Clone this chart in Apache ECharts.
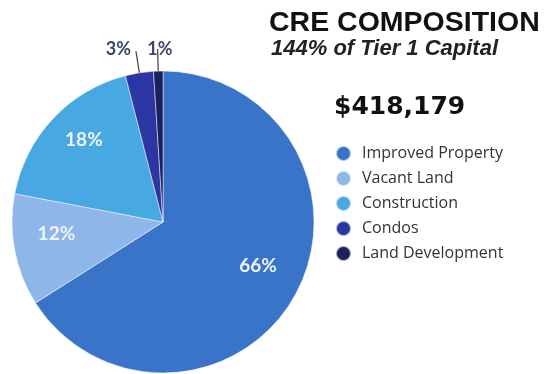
<!DOCTYPE html>
<html>
<head>
<meta charset="utf-8">
<script src="https://cdn.jsdelivr.net/npm/echarts@6/dist/echarts.min.js"></script>
<style>
  html, body { margin: 0; padding: 0; background: #fff; }
  #chart { width: 547px; height: 374px; }
</style>
</head>
<body>
<div id="chart"></div>
<script>
// CRE loan composition by segment (percent of total)
const categories = ['Improved Property', 'Vacant Land', 'Construction', 'Condos', 'Land Development'];
const shares = [66, 12, 18, 3, 1];
const colors = ['#3a74c9', '#8fb6e8', '#48a8e2', '#2b35a3', '#1c205e'];
const titleText = 'CRE COMPOSITION';
const subtitleText = '144% of Tier 1 Capital';
const totalText = '$418,179';

const pieData = categories.map((name, i) => ({
  name,
  value: shares[i],
  itemStyle: { color: colors[i] },
  label: { show: shares[i] < 5 },
  labelLine: { show: shares[i] < 5 }
}));

// Large slices are labelled inside; the two thin slivers get outside labels with leader lines
const bigLabels = pieData.map((d, i) => ({
  name: d.name,
  value: d.value,
  label: { show: shares[i] >= 5 }
}));

const chart = echarts.init(document.getElementById('chart'), null, { renderer: 'canvas' });

chart.setOption({
  backgroundColor: '#fff',
  animation: false,
  title: [
    {
      text: titleText,
      left: 264, top: 4,
      textStyle: { fontFamily: 'Liberation Sans', fontWeight: 'bold', fontSize: 28.5, color: '#111' }
    },
    {
      text: subtitleText,
      left: 266, top: 33,
      textStyle: { fontFamily: 'Liberation Sans', fontStyle: 'italic', fontWeight: 'bold', fontSize: 22, color: '#222' }
    },
    {
      text: totalText,
      left: 329, top: 90,
      textStyle: { fontFamily: 'DejaVu Sans', fontWeight: 'bold', fontSize: 25, color: '#111' }
    }
  ],
  legend: {
    orient: 'vertical',
    left: 330, top: 140,
    icon: 'circle',
    itemWidth: 15, itemHeight: 15,
    itemGap: 8,
    selectedMode: false,
    data: categories,
    textStyle: {
      fontFamily: 'Open Sans', fontSize: 16, color: '#333',
      padding: [0, 0, 0, 6]
    }
  },
  series: [
    {
      type: 'pie',
      center: [163, 222],
      radius: 151,
      startAngle: 90,
      clockwise: true,
      avoidLabelOverlap: false,
      itemStyle: { borderColor: 'rgba(255,255,255,0.6)', borderWidth: 0.8 },
      label: {
        show: true,
        position: 'outside',
        formatter: '{c}%',
        fontFamily: 'Lato', fontWeight: 'bold', fontSize: 18, color: '#3d4670'
      },
      labelLine: {
        show: true, length: 22, length2: 0,
        lineStyle: { color: '#444', width: 1.2 }
      },
      labelLayout: function (p) {
        if (p.dataIndex === 3) return { dx: 0, dy: -2 };
        if (p.dataIndex === 4) return { dx: 20, dy: 0 };
        return {};
      },
      data: pieData
    },
    {
      // transparent ring used only to place the inside percentage labels
      type: 'pie',
      center: [163, 222],
      radius: [60, 151],
      startAngle: 90,
      clockwise: true,
      silent: true,
      avoidLabelOverlap: false,
      itemStyle: { color: 'rgba(0,0,0,0)' },
      label: {
        position: 'inside',
        formatter: '{c}%',
        fontFamily: 'Lato', fontWeight: 'bold', fontSize: 19, color: '#eef3fb'
      },
      labelLine: { show: false },
      labelLayout: function () {
        return { dy: -8 };
      },
      data: bigLabels
    }
  ]
});
</script>
</body>
</html>
